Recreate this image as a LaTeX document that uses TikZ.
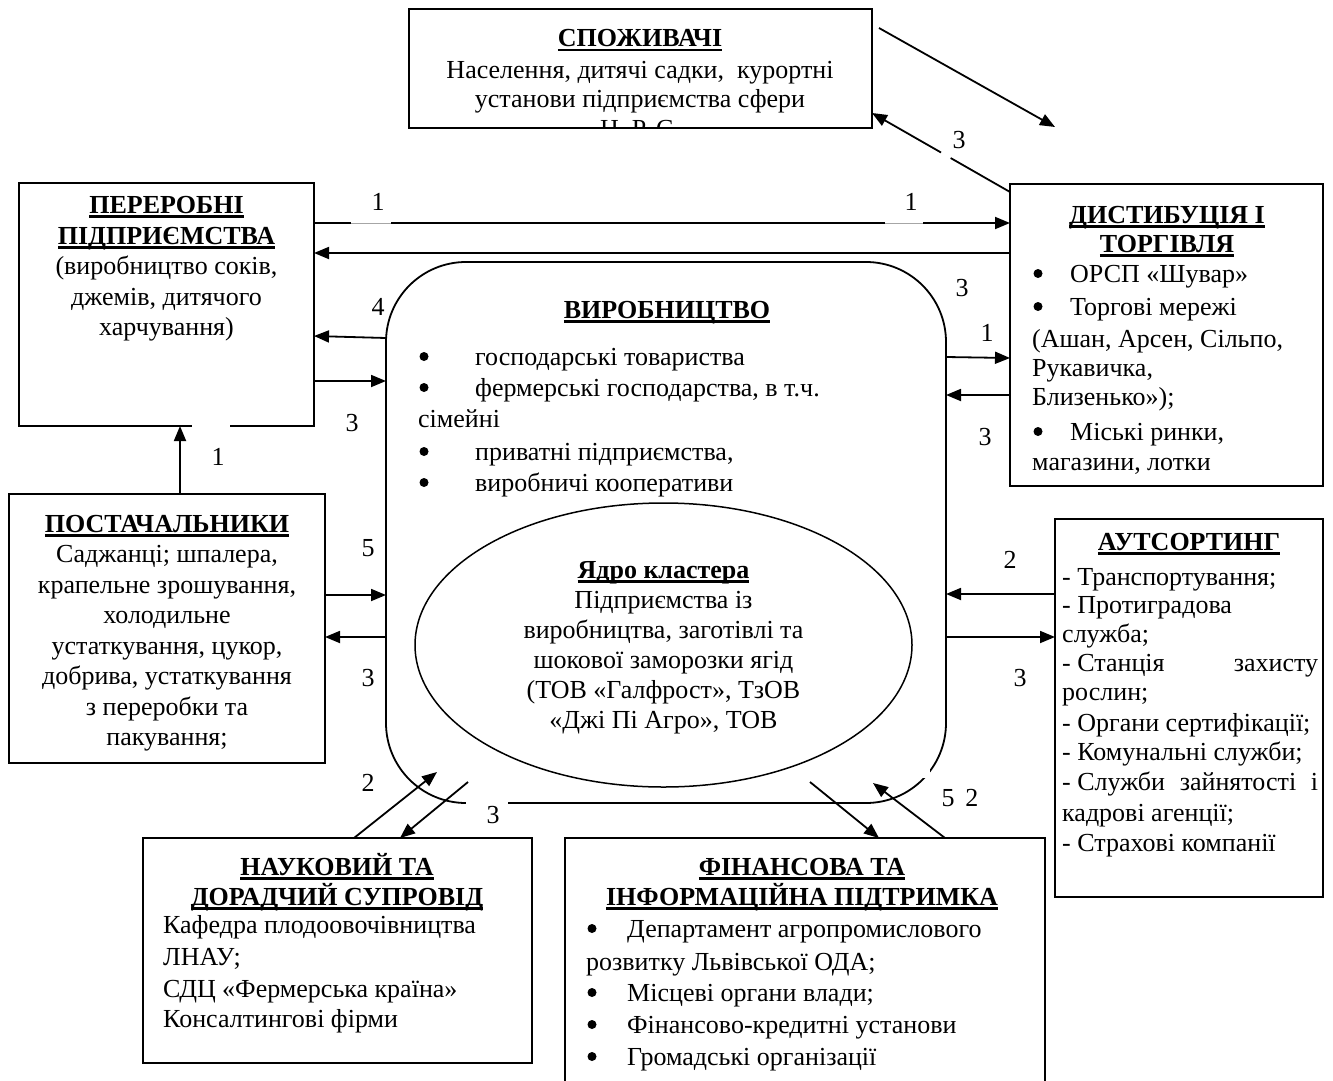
\documentclass[tikz,border=0pt]{standalone}
\usepackage{fontspec}
\setmainfont{Liberation Serif}
\usetikzlibrary{arrows.meta,shapes.geometric,calc}
\newcommand\myul[1]{\setbox0=\hbox{#1}\rlap{\vrule width \wd0 height -2pt depth 4.5pt}\box0}
\newcommand\bul[1]{\hspace*{#1}}
\begin{document}
\begin{tikzpicture}[x=1pt,y=-1pt,
  box/.style={draw, line width=2.2pt, inner sep=0, outer sep=0, anchor=north west},
  arr/.style={line width=1.8pt, -{Triangle[length=15pt,width=12pt]}},
  ln/.style={line width=1.8pt},
  tx/.style={inner sep=0, anchor=base, font=\fontsize{26}{30}\selectfont},
  txl/.style={tx, anchor=base west},
  lab/.style={inner sep=0, font=\fontsize{26}{30}\selectfont},
  dot/.style={circle, fill, inner sep=0, minimum size=9pt},
]
\useasboundingbox (0,0) rectangle (1333,1081);
\fill[white] (0,0) rectangle (1333,1081);

% boxes
\node[box, minimum width=463pt, minimum height=119pt] (spoz) at (409,9) {};
\node[box, minimum width=295pt, minimum height=243pt] (perer) at (19,183) {};
\node[box, minimum width=313pt, minimum height=302pt] (dist) at (1010,184) {};
\node[box, line width=1.8pt, rounded corners=80pt, minimum width=560pt, minimum height=541pt] (virob) at (386,262) {};
\node[draw, ellipse, line width=1.5pt, inner sep=0, outer sep=0, minimum width=497pt, minimum height=284pt] (yadro) at (663.5,645) {};
\node[box, minimum width=316pt, minimum height=269pt] (postach) at (9,494) {};
\node[box, minimum width=268pt, minimum height=378pt] (auts) at (1055,519) {};
\node[box, minimum width=389pt, minimum height=225pt] (nauk) at (143,838) {};
\node[inner sep=0, outer sep=0, anchor=north west, minimum width=480pt, minimum height=262pt] (fin) at (565,838) {};
\draw[line width=2.2pt] (fin.south west) -- (fin.north west) -- (fin.north east) -- (fin.south east);

% gaps in outlines
\fill[white] (466,796) rectangle (508,810);
\fill[white] (916,766) rectangle (930,778);
\fill[white] (192,420) rectangle (230,432);

% consumers text
\node[tx] (s1) at (640,47) {\bfseries\myul{СПОЖИВАЧІ}};
\node[tx] (s2) at (640,78) {Населення, дитячі садки,\ \ курортні};
\node[tx] (s3) at (640,107) {установи підприємства сфери};
\begin{scope}
\clip (410,10) rectangle (871,127);
\node[tx] (s4) at (640,137) {Н. Р. С.};
\end{scope}

% pererobni text
\node[tx] (p1) at (166.5,213) {\bfseries\myul{ПЕРЕРОБНІ}};
\node[tx] (p2) at (166.5,244) {\bfseries\myul{ПІДПРИЄМСТВА}};
\node[tx] (p3) at (166.5,274) {(виробництво соків,};
\node[tx] (p4) at (166.5,305) {джемів, дитячого};
\node[tx] (p5) at (166.5,335) {харчування)};

% postach text
\node[tx] (q1) at (167,532) {\bfseries\myul{ПОСТАЧАЛЬНИКИ}};
\node[tx] (q2) at (167,562.5) {Саджанці; шпалера,};
\node[tx] (q3) at (167,593) {крапельне зрошування,};
\node[tx] (q4) at (167,623.5) {холодильне};
\node[tx] (q5) at (167,654) {устаткування, цукор,};
\node[tx] (q6) at (167,684.5) {добрива, устаткування};
\node[tx] (q7) at (167,715) {з переробки та};
\node[tx] (q8) at (167,745.5) {пакування;};

% virob text
\node[tx] (v0) at (667,318) {\bfseries\myul{ВИРОБНИЦТВО}};
\node[txl] (va) at (418,365) {\bul{57pt}господарські товариства};
\node[txl] (vb) at (418,396) {\bul{57pt}фермерські господарства, в т.ч.};
\node[txl] (vc) at (418,427) {сімейні};
\node[txl] (vd) at (418,460) {\bul{57pt}приватні підприємства,};
\node[txl] (ve) at (418,491) {\bul{57pt}виробничі кооперативи};
\node[dot] (bva) at (424,356.5) {};
\node[dot] (bvb) at (424,387.5) {};
\node[dot] (bvd) at (424,451.5) {};
\node[dot] (bve) at (424,482.5) {};

% yadro text
\node[tx] (y1) at (663.5,578) {\bfseries\myul{Ядро кластера}};
\node[tx] (y2) at (663.5,608) {Підприємства із};
\node[tx] (y3) at (663.5,638) {виробництва, заготівлі та};
\node[tx] (y4) at (663.5,668) {шокової заморозки ягід};
\node[tx] (y5) at (663.5,698) {(ТОВ «Галфрост», ТзОВ};
\node[tx] (y6) at (663.5,728) {«Джі Пі Агро», ТОВ};

% dist text
\node[tx] (d1) at (1167,223) {\bfseries\myul{ДИСТИБУЦІЯ І}};
\node[tx] (d2) at (1167,252) {\bfseries\myul{ТОРГІВЛЯ}};
\node[txl] (d3) at (1033,282) {\bul{37pt}ОРСП «Шувар»};
\node[txl] (d4) at (1033,315) {\bul{37pt}Торгові мережі};
\node[txl] (d5) at (1032,347) {(Ашан, Арсен, Сільпо,};
\node[txl] (d6) at (1032,376) {Рукавичка,};
\node[txl] (d7) at (1032,405) {Близенько»);};
\node[txl] (d8) at (1033,440) {\bul{37pt}Міські ринки,};
\node[txl] (d9) at (1032,470) {магазини, лотки};
\node[dot] (bd3) at (1038,273.5) {};
\node[dot] (bd4) at (1038,306.5) {};
\node[dot] (bd8) at (1038,431.5) {};

% auts text
\node[tx] (a0) at (1189,550) {\bfseries\myul{АУТСОРТИНГ}};
\node[txl] (a1) at (1062,585) {- Транспортування;};
\node[txl] (a2) at (1062,613) {- Протиградова};
\node[txl] (a3) at (1062,642) {служба;};
\node[txl] (a4) at (1062,671) {\hbox to 256pt{- Станція\hfill захисту}};
\node[txl] (a5) at (1062,700) {рослин;};
\node[txl] (a6) at (1062,731) {- Органи сертифікації;};
\node[txl] (a7) at (1062,760) {- Комунальні служби;};
\node[txl] (a8) at (1062,790) {\hbox to 256pt{- Служби\hfill зайнятості\hfill і}};
\node[txl] (a9) at (1062,821) {кадрові агенції;};
\node[txl] (a10) at (1062,851) {- Страхові компанії};

% nauk text
\node[tx] (n1) at (337,875) {\bfseries\myul{НАУКОВИЙ ТА}};
\node[tx] (n2) at (337,905) {\bfseries\myul{ДОРАДЧИЙ СУПРОВІД}};
\node[txl] (n3) at (163,933) {Кафедра плодоовочівництва};
\node[txl] (n4) at (163,965) {ЛНАУ;};
\node[txl] (n5) at (163,997) {СДЦ «Фермерська країна»};
\node[txl] (n6) at (163,1027) {Консалтингові фірми};

% fin text
\node[tx] (f1) at (802,875) {\bfseries\myul{ФІНАНСОВА ТА}};
\node[tx] (f2) at (802,905) {\bfseries\myul{ІНФОРМАЦІЙНА ПІДТРИМКА}};
\node[txl] (f3) at (587,937) {\bul{40pt}Департамент агропромислового};
\node[txl] (f4) at (586,970) {розвитку Львівської ОДА;};
\node[txl] (f5) at (587,1001) {\bul{40pt}Місцеві органи влади;};
\node[txl] (f6) at (587,1033) {\bul{40pt}Фінансово-кредитні установи};
\node[txl] (f7) at (587,1065) {\bul{40pt}Громадські організації};
\node[dot] (bf3) at (592,928.5) {};
\node[dot] (bf5) at (592,992.5) {};
\node[dot] (bf6) at (592,1024.5) {};
\node[dot] (bf7) at (592,1056.5) {};

% connectors
\coordinate (c1) at (879,28);
\coordinate (c2) at (1055,127);
\draw[arr] (c1) -- (c2);
\coordinate (dA) at (dist.west |- 0,192);
\coordinate (sB) at (spoz.east |- 0,113);
\draw[ln] (dA) -- ($(dA)!0.43!(sB)$);
\draw[arr] ($(dA)!0.50!(sB)$) -- (sB);

\draw[arr] (perer.east |- 0,223) -- (dist.west |- 0,223);
\draw[white, line width=2.4pt] (351,223) -- (391,223);
\draw[gray!70, line width=0.7pt] (351,223) -- (391,223);
\draw[white, line width=2.4pt] (885,223) -- (923,223);
\draw[gray!70, line width=0.7pt] (885,223) -- (923,223);
\draw[arr] (dist.west |- 0,253) -- (perer.east |- 0,253);
\draw[arr] (virob.west |- 0,338) -- (perer.east |- 0,336);
\draw[arr] (perer.east |- 0,381) -- (virob.west |- 0,381);
\draw[arr] (postach.north -| 180,0) -- (perer.south -| 180,0);

\draw[arr] (postach.east |- 0,595) -- (virob.west |- 0,595);
\draw[arr] (virob.west |- 0,637) -- (postach.east |- 0,637);

\draw[arr] (virob.east |- 0,357) -- (dist.west |- 0,358);
\draw[arr] (dist.west |- 0,395) -- (virob.east |- 0,395);

\draw[arr] (auts.west |- 0,594) -- (virob.east |- 0,594);
\draw[arr] (virob.east |- 0,637) -- (auts.west |- 0,637);

\coordinate (v1) at (437,772);
\coordinate (v2) at (468,782);
\draw[arr] (nauk.north -| 354,0) -- (v1);
\draw[arr] (v2) -- (nauk.north -| 400,0);
\coordinate (v3) at (810,782);
\coordinate (v4) at (873,783);
\draw[arr] (v3) -- (fin.north -| 879,0);
\draw[arr] (fin.north -| 945,0) -- (v4);

% labels
\node[lab] (l1) at (959,140) {3};
\node[lab] (l2) at (378,202) {1};
\node[lab] (l3) at (911,202) {1};
\node[lab] (l4) at (962,288) {3};
\node[lab] (l5) at (378,307) {4};
\node[lab] (l6) at (987,333) {1};
\node[lab] (l7) at (352,423) {3};
\node[lab] (l8) at (985,437) {3};
\node[lab] (l9) at (218,457) {1};
\node[lab] (l10) at (368,548) {5};
\node[lab] (l11) at (1010,560) {2};
\node[lab] (l12) at (368,678) {3};
\node[lab] (l13) at (1020,678) {3};
\node[lab] (l14) at (368,783) {2};
\node[lab] (l15) at (493,815) {3};
\node[lab] (l16) at (960,798) {5\ \,2};
\end{tikzpicture}
\end{document}
